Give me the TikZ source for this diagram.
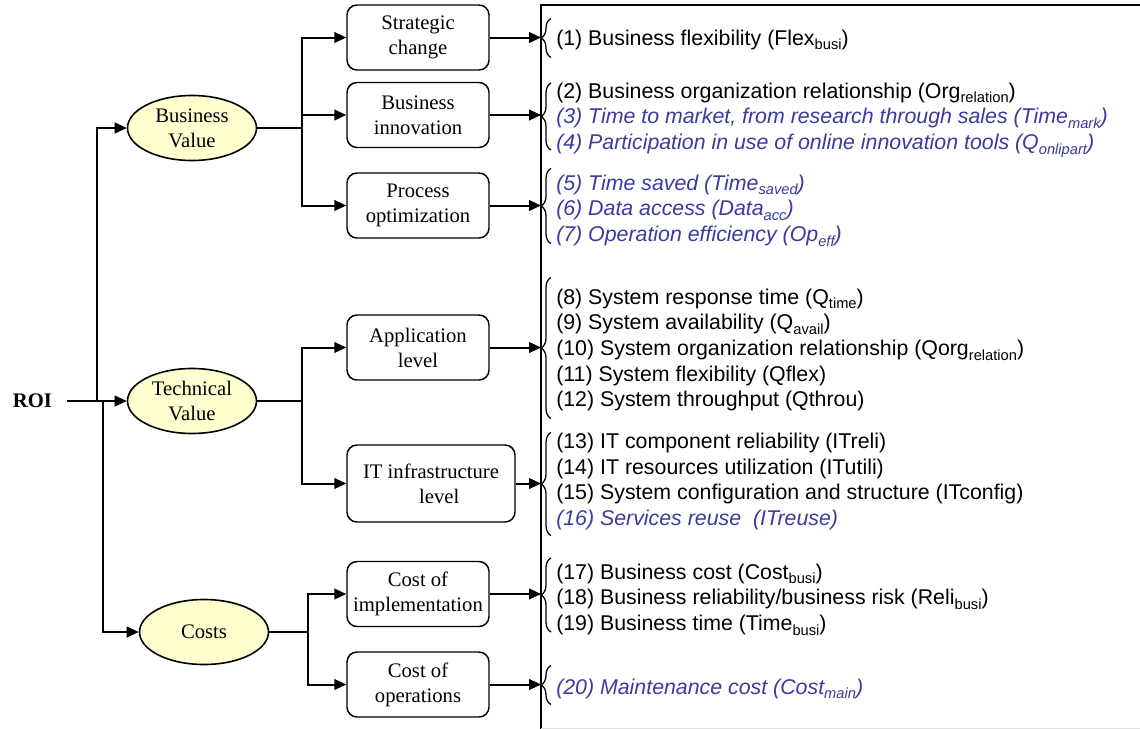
\documentclass[tikz,border=0pt]{standalone}
\usepackage{fontspec}
\setmainfont{Liberation Serif}
\newfontfamily\arialfont{Liberation Sans}
\usetikzlibrary{arrows.meta,shapes.geometric,decorations.pathreplacing}
\definecolor{ellfill}{RGB}{255,255,208}
\definecolor{itemblue}{RGB}{58,58,160}
% low subscript as used in the indicator names
\newcommand{\lsub}[1]{\raisebox{-3.5pt}{\fontsize{11}{11}\selectfont #1}}
\newcommand{\blueit}[1]{{\color{itemblue}\itshape #1}}

\begin{document}
\begin{tikzpicture}[x=0.75pt,y=-0.75pt,
  conn/.style={line width=1.5pt},
  arr/.style={conn,-{Triangle[length=9pt,width=8pt]}},
  valnode/.style={ellipse,draw,line width=1.2pt,fill=ellfill,inner sep=0pt,
    minimum width=96.75pt,minimum height=48.75pt,align=center,
    font=\fontsize{15.5}{18.75}\selectfont},
  stepbox/.style={rectangle,rounded corners=7.5pt,draw,line width=1.1pt,
    inner sep=0pt,minimum width=106.5pt,minimum height=48.75pt,align=center,
    font=\fontsize{15.5}{18.75}\selectfont},
  items/.style={anchor=west,align=left,inner sep=0pt,
    font=\arialfont\fontsize{16}{19.3}\selectfont},
  brc/.style={decorate,decoration={brace,amplitude=7.5pt},line width=0.95pt}]

\useasboundingbox (0,0) rectangle (1140,729);

% indicator panel frame
\coordinate (pl) at (541,5);
\draw[line width=1.5pt] (1140,5) -- (pl) -- (541,729);
\draw[gray!25,line width=0.6pt] (541,728.3) -- (1140,728.3);

% root and value categories
\node[font=\bfseries\fontsize{15.5}{18.75}\selectfont,inner xsep=11pt] (roi) at (32.5,401) {ROI};
\node[valnode] (bv) at (192,128) {Business\\Value};
\node[valnode] (tv) at (192,401) {Technical\\Value};
\node[valnode] (co) at (204,632) {Costs};

% sub-categories
\node[stepbox] (s1) at (418,37.5) {Strategic\\change};
\node[stepbox] (s2) at (418,115) {Business\\innovation};
\node[stepbox] (s3) at (418,205.5) {Process\\optimization};
\node[stepbox] (a1) at (418,347.5) {Application\\level};
\node[stepbox,minimum width=126pt,minimum height=57.75pt] (a2) at (431,483.5) {IT infrastructure\\\hspace*{0.8em}level};
\node[stepbox] (c1) at (418,594) {Cost of\\implementation};
\node[stepbox] (c2) at (418,684.5) {Cost of\\operations};

% junction points
\coordinate (ja) at (97,401);
\coordinate (jb) at (103,401);
\coordinate (kb) at (302,128);
\coordinate (kt) at (302,401);
\coordinate (kc) at (308,632);

% connectors from the root
\draw[arr] (roi.east) -- (tv.west);
\draw[arr] (ja) |- (bv.west);
\draw[arr] (jb) |- (co.west);

% connectors to sub-categories
\draw[conn] (bv.east) -- (kb);
\draw[arr] (kb) |- (s1.west);
\draw[arr] (kb) |- (s2.west);
\draw[arr] (kb) |- (s3.west);
\draw[conn] (tv.east) -- (kt);
\draw[arr] (kt) |- (a1.west);
\draw[arr] (kt) |- (a2.west);
\draw[conn] (co.east) -- (kc);
\draw[arr] (kc) |- (c1.west);
\draw[arr] (kc) |- (c2.west);

% connectors to the indicator groups
\foreach \b in {s1,s2,s3,a1,a2,c1,c2}
  \draw[arr] (\b.east) -- (\b.east -| pl);

% braces
\draw[brc] (551,57.5) -- (551,18.5);
\draw[brc] (551,150) -- (551,83);
\draw[brc] (551,243.5) -- (551,168.5);
\draw[brc] (551,418.5) -- (551,277.5);
\draw[brc] (551,535.5) -- (551,432.5);
\draw[brc] (551,632) -- (551,558);
\draw[brc] (551,704.5) -- (551,665.5);

% indicator lists
\node[items] (g1) at (556,40) {(1) Business flexibility (Flex\lsub{busi})};
\node[items] (g2) at (556,120) {(2) Business organization relationship (Org\lsub{relation})\\
  \blueit{(3) Time to market, from research through sales (Time\lsub{mark})}\\
  \blueit{(4) Participation in use of online innovation tools (Q\lsub{onlipart})}};
\node[items] (g3) at (556,210.5) {\blueit{(5) Time saved (Time\lsub{saved})}\\
  \blueit{(6) Data access (Data\lsub{acc})}\\
  \blueit{(7) Operation efficiency (Op\lsub{eff})}};
\node[items] (g4) at (556,350) {(8) System response time (Q\lsub{time})\\
  (9) System availability (Q\lsub{avail})\\
  (10) System organization relationship (Qorg\lsub{relation})\\
  (11) System flexibility (Qflex)\\
  (12) System throughput (Qthrou)};
\node[items] (g5) at (556,481.5) {(13) IT component reliability (ITreli)\\
  (14) IT resources utilization (ITutili)\\
  (15) System configuration and structure (ITconfig)\\
  \blueit{(16) Services reuse\ \ (ITreuse)}};
\node[items] (g6) at (556,599.5) {(17) Business cost (Cost\lsub{busi})\\
  (18) Business reliability/business risk (Reli\lsub{busi})\\
  (19) Business time (Time\lsub{busi})};
\node[items] (g7) at (556,689) {\blueit{(20) Maintenance cost (Cost\lsub{main})}};

\end{tikzpicture}
\end{document}
